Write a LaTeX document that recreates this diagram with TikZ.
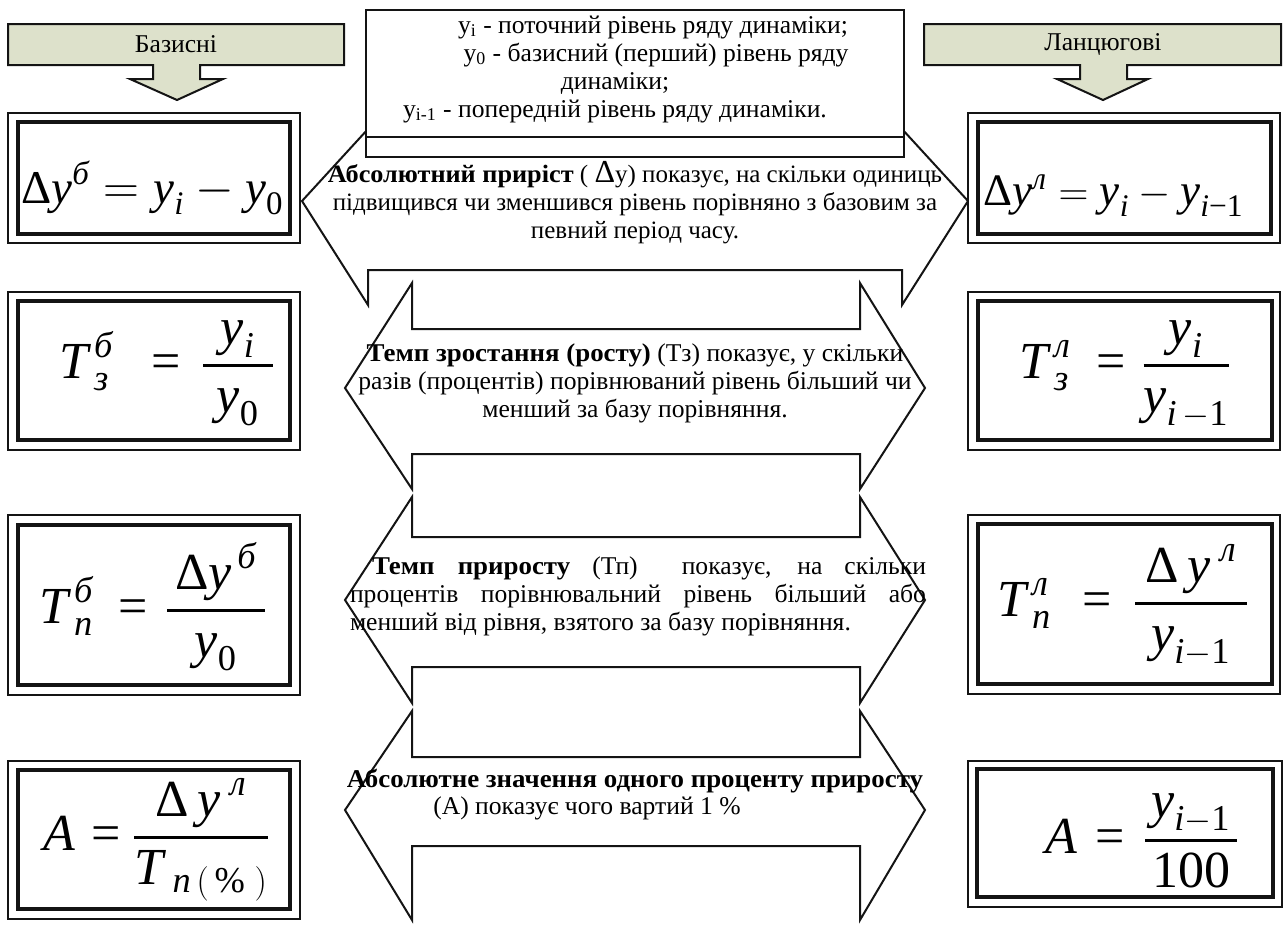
\documentclass[tikz,border=0pt]{standalone}
\usepackage{fontspec}
\usepackage{amsmath}
\setmainfont{Liberation Serif}[BoldFeatures={FakeStretch=1.05}]
\definecolor{hdrfill}{RGB}{221,225,203}
\definecolor{ink}{RGB}{20,20,20}
\tikzset{
  hdrarrow/.style={draw=ink, line width=1pt, fill=hdrfill, line join=miter},
  dblarrow/.style={draw=ink, line width=1pt, fill=white, line join=miter},
  boxout/.style={draw=ink, line width=1pt, fill=white},
  boxin/.style={draw=ink, line width=1.6pt},
  legbox/.style={draw=ink, line width=1pt, fill=white},
  txt/.style={font=\fontsize{12.8}{14}\selectfont, align=center, inner sep=0pt},
  txtS/.style={font=\fontsize{12.5}{14}\selectfont, align=center, inner sep=0pt},
  fmlA/.style={font=\fontsize{23.5}{28}\selectfont, inner sep=0pt},
  fmlAs/.style={font=\fontsize{22.5}{28}\selectfont, inner sep=0pt},
  fmlB/.style={font=\fontsize{26}{30}\selectfont, inner sep=0pt},
}
\newcommand\mv[1]{\text{\itshape #1}}
\newcommand\Dl{\text{\upshape Δ}}
\newcommand\ff[3]{\genfrac{}{}{1.1pt}{0}{\makebox[#1]{$\displaystyle #2$}}{#3}}
\begin{document}
\begin{tikzpicture}[x=0.5pt,y=-0.5pt]
\useasboundingbox (0,0) rectangle (1283,928);
% ---------- double arrows (middle) ----------
\draw[dblarrow] (302,201) -- (368,129) -- (368,140) -- (902,140) -- (902,129) -- (968,201)
   -- (902,305) -- (902,270) -- (368,270) -- (368,305) -- cycle;
\draw[dblarrow] (345,388) -- (412,283) -- (412,329) -- (860,329) -- (860,283) -- (925,388)
   -- (860,489) -- (860,454) -- (412,454) -- (412,489) -- cycle;
\draw[dblarrow] (345,600) -- (412,497) -- (412,537) -- (860,537) -- (860,497) -- (925,600)
   -- (860,703) -- (860,667) -- (412,667) -- (412,703) -- cycle;
\draw[dblarrow] (345,810) -- (412,711) -- (412,757) -- (860,757) -- (860,711) -- (925,810)
   -- (860,920) -- (860,846) -- (412,846) -- (412,920) -- cycle;
% ---------- header arrows ----------
\draw[hdrarrow] (8,24) -- (344,24) -- (344,65) -- (200,65) -- (200,79) -- (223,79) -- (177,100)
   -- (130,79) -- (153,79) -- (153,65) -- (8,65) -- cycle;
\node[txt] (hb) at (176,44) {Базисні};
\draw[hdrarrow] (924,24) -- (1281,24) -- (1281,65) -- (1127,65) -- (1127,79) -- (1148,79) -- (1103,100)
   -- (1057,79) -- (1080,79) -- (1080,65) -- (924,65) -- cycle;
\node[txt] (hl) at (1103,44) {Ланцюгові};
% ---------- legend box ----------
\draw[legbox] (366,10) rectangle (904,157);
\draw[draw=ink, line width=1pt] (366,137) -- (904,137);
\node[txt, align=center] (leg) at (615,69) {%
\hspace*{38pt}y\textsubscript{i} - поточний рівень ряду динаміки;\\
\hspace*{41pt}y\textsubscript{0} - базисний (перший) рівень ряду\\
динаміки;\hspace*{9pt}\\
y\textsubscript{i-1} - попередній рівень ряду динаміки.};
% ---------- formula boxes ----------
\draw[boxout] (8,113) rectangle (300,243);   \draw[boxin] (18,122) rectangle (290,234);
\draw[boxout] (968,113) rectangle (1280,243); \draw[boxin] (978,122) rectangle (1271,234);
\draw[boxout] (8,292) rectangle (300,450);   \draw[boxin] (18,301) rectangle (290,440);
\draw[boxout] (968,292) rectangle (1280,450); \draw[boxin] (978,301) rectangle (1272,440);
\draw[boxout] (8,515) rectangle (300,695);   \draw[boxin] (18,525) rectangle (290,685);
\draw[boxout] (968,515) rectangle (1280,694); \draw[boxin] (978,524) rectangle (1272,684);
\draw[boxout] (8,761) rectangle (300,919);   \draw[boxin] (18,770) rectangle (290,909);
\draw[boxout] (968,761) rectangle (1282,907); \draw[boxin] (977,769) rectangle (1273,897);
% ---------- formulas ----------
\node[fmlA, anchor=base west] (fL1) at (21,203)
  {$\Dl\mv{y}^{\mv{б}} = \mv{y}_{\mv{i}} - \mv{y}_{\text{0}}$};
\node[fmlAs, anchor=base west] (fR1) at (983,205)
  {$\Dl\mv{y}^{\mv{л}} = \mv{y}_{\mv{i}} - \mv{y}_{\mv{i}\text{−1}}$};
% L2
\node[fmlB, anchor=base west] (fL2a) at (59,378) {$\mv{T}^{\,\mv{б}}_{\,\mv{з}}$};
\node[fmlB, anchor=base] (fL2b) at (166,378) {=};
\node[fmlB, anchor=base] (fL2c) at (238,378) {$\ff{35pt}{\mv{y}_{\mv{i}}}{\mv{y}_{\text{0}}}$};
% R2
\node[fmlB, anchor=base west] (fR2a) at (1019,378) {$\mv{T}^{\,\mv{л}}_{\,\mv{з}}$};
\node[fmlB, anchor=base] (fR2b) at (1111,378) {=};
\node[fmlB, anchor=base] (fR2c) at (1186,378) {$\ff{41.5pt}{\mv{y}_{\mv{i}}}{\mv{y}_{\mv{i}\,-\text{1}}}$};
% L3
\node[fmlB, anchor=base west] (fL3a) at (39,623) {$\mv{T}^{\,\mv{б}}_{\,\mv{п}}$};
\node[fmlB, anchor=base] (fL3b) at (133,623) {=};
\node[fmlB, anchor=base] (fL3c) at (216,623) {$\ff{49pt}{\Dl\mv{y}^{\,\mv{б}}}{\mv{y}_{\text{0}}}$};
% R3
\node[fmlB, anchor=base west] (fR3a) at (997,616) {$\mv{T}^{\,\mv{л}}_{\,\mv{п}}$};
\node[fmlB, anchor=base] (fR3b) at (1097,616) {=};
\node[fmlB, anchor=base] (fR3c) at (1191,616) {$\ff{56pt}{\Dl\,\mv{y}^{\;\mv{л}}}{\mv{y}_{\mv{i}-\text{1}}}$};
% L4
\node[fmlB, anchor=base west] (fL4a) at (43,850) {$\mv{A}$};
\node[fmlB, anchor=base] (fL4b) at (106,850) {=};
\node[fmlB, anchor=base] (fL4c) at (201,850) {$\ff{61pt}{\Dl\,\mv{y}^{\;\mv{л}}}{\mv{T}_{\;\mv{п}\,(\,\text{\%}\;)}}$};
% R4
\node[fmlB, anchor=base west] (fR4a) at (1045,853) {$\mv{A}$};
\node[fmlB, anchor=base] (fR4b) at (1110,853) {=};
\node[fmlB, anchor=base] (fR4c) at (1191,853) {$\ff{46pt}{\mv{y}_{\mv{i}-\text{1}}}{\text{100}}$};
% ---------- arrow texts ----------
\node[txtS] (t1) at (635,203) {%
\textbf{Абсолютний приріст} ( {\fontsize{16}{14}\selectfont Δ}y) показує, на скільки одиниць\\
підвищився чи зменшився рівень порівняно з базовим за\\
певний період часу.};
\node[txt] (t2) at (635,383) {%
\textbf{Темп зростання (росту)} (Тз) показує, у скільки\\
разів (процентів) порівнюваний рівень більший чи\\
менший за базу порівняння.};
\node[txt, text width=288pt, align=justify] (t3) at (638,596) {%
\hspace*{11pt}\textbf{Темп приросту} (Тп) \ показує, на скільки\linebreak
процентів порівнювальний рівень більший або\linebreak
менший від рівня, взятого за базу порівняння.};
\node[txt] (t4a) at (635,781) {\textbf{Абсолютне значення одного проценту приросту}};
\node[txt] (t4b) at (587,808) {(А) показує чого вартий 1 \%};
\end{tikzpicture}
\end{document}
